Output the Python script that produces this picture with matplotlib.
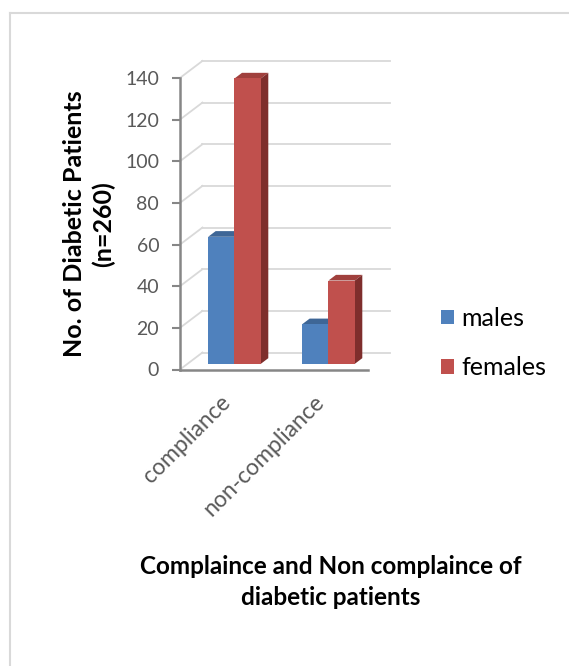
import matplotlib.pyplot as plt
from matplotlib.patches import Polygon
from matplotlib.lines import Line2D

plt.rcParams['font.family'] = ['Lato', 'DejaVu Sans']

categories = ['compliance', 'non-compliance']
series = ['males', 'females']
males = [61, 19]
females = [137, 40]
yticks = [0, 20, 40, 60, 80, 100, 120, 140]

front_colors = ['#4F81BD', '#C0504D']
top_colors = ['#3E6696', '#A0403D']
side_colors = ['#36587F', '#7E2E2C']

# oblique "3d" look: depth vector in data units, bars sit in the middle third
DX, DY = 0.239, 8.16
f0, f1 = 1 / 3, 2 / 3
w = 0.28

fig = plt.figure(figsize=(5.69, 6.66), dpi=100)
ax = fig.add_axes([180 / 569, 1 - 369.5 / 666, 188 / 569, 291.6 / 666])
ax.set_xlim(0, 2)
ax.set_ylim(0, 140)

grid_c = '#D9D9D9'
for v in yticks:
    ax.plot([0, DX], [v, v + DY], color=grid_c, lw=1.3, clip_on=False, zorder=1)
    ax.plot([DX, 2 + DX], [v + DY, v + DY], color=grid_c, lw=1.3, clip_on=False, zorder=1)

xs = [i + 0.5 for i in range(len(categories))]
for j, (name, vals) in enumerate(zip(series, [males, females])):
    x0s = [c - w + j * w for c in xs]
    ax.bar([x + f0 * DX for x in x0s], vals, width=w, bottom=f0 * DY, align='edge',
           color=front_colors[j], label=name, zorder=3 + j * 2, clip_on=False)
    for x0, v in zip(x0s, vals):
        x1 = x0 + w
        top = [(x0 + f0 * DX, v + f0 * DY), (x1 + f0 * DX, v + f0 * DY),
               (x1 + f1 * DX, v + f1 * DY), (x0 + f1 * DX, v + f1 * DY)]
        side = [(x1 + f0 * DX, f0 * DY), (x1 + f1 * DX, f1 * DY),
                (x1 + f1 * DX, v + f1 * DY), (x1 + f0 * DX, v + f0 * DY)]
        ax.add_patch(Polygon(top, closed=True, color=top_colors[j], lw=0,
                             zorder=2 + j * 2, clip_on=False))
        ax.add_patch(Polygon(side, closed=True, color=side_colors[j], lw=0,
                             zorder=2 + j * 2, clip_on=False))

for s in ['top', 'right']:
    ax.spines[s].set_visible(False)
for s in ['left', 'bottom']:
    ax.spines[s].set_color('#868686')
    ax.spines[s].set_linewidth(1.8)
ax.patch.set_alpha(0)

ax.set_yticks(yticks)
ax.tick_params(axis='y', length=6, width=1.5, color='#868686', pad=9,
               labelsize=14, labelcolor='#595959')
ax.set_xticks(xs)
ax.set_xticklabels(categories, rotation=45, ha='right', va='center',
                   rotation_mode='anchor')
ax.tick_params(axis='x', length=0, pad=21, labelsize=16.5, labelcolor='#595959')

ax.set_ylabel('No. of Diabetic Patients\n(n=260)', fontsize=18, fontweight='bold',
              labelpad=7, linespacing=1.3)

fig.text(331 / 569, 1 - 582 / 666, 'Complaince and Non complaince of\ndiabetic patients',
         ha='center', va='center', fontsize=17.5, fontweight='bold', linespacing=1.45)

ax.legend(loc='center left', bbox_to_anchor=(441 / 569, 1 - 343 / 666),
          bbox_transform=fig.transFigure, frameon=False, fontsize=18,
          handlelength=0.52, handleheight=0.52, handletextpad=0.3,
          labelspacing=1.05, borderpad=0, borderaxespad=0)

fig.add_artist(Line2D([10 / 569, 10 / 569], [0, 1 - 13 / 666], color='#D9D9D9', lw=1.5))
fig.add_artist(Line2D([10 / 569, 1], [1 - 13 / 666, 1 - 13 / 666], color='#D9D9D9', lw=1.5))

fig.savefig('out.png', dpi=100)
